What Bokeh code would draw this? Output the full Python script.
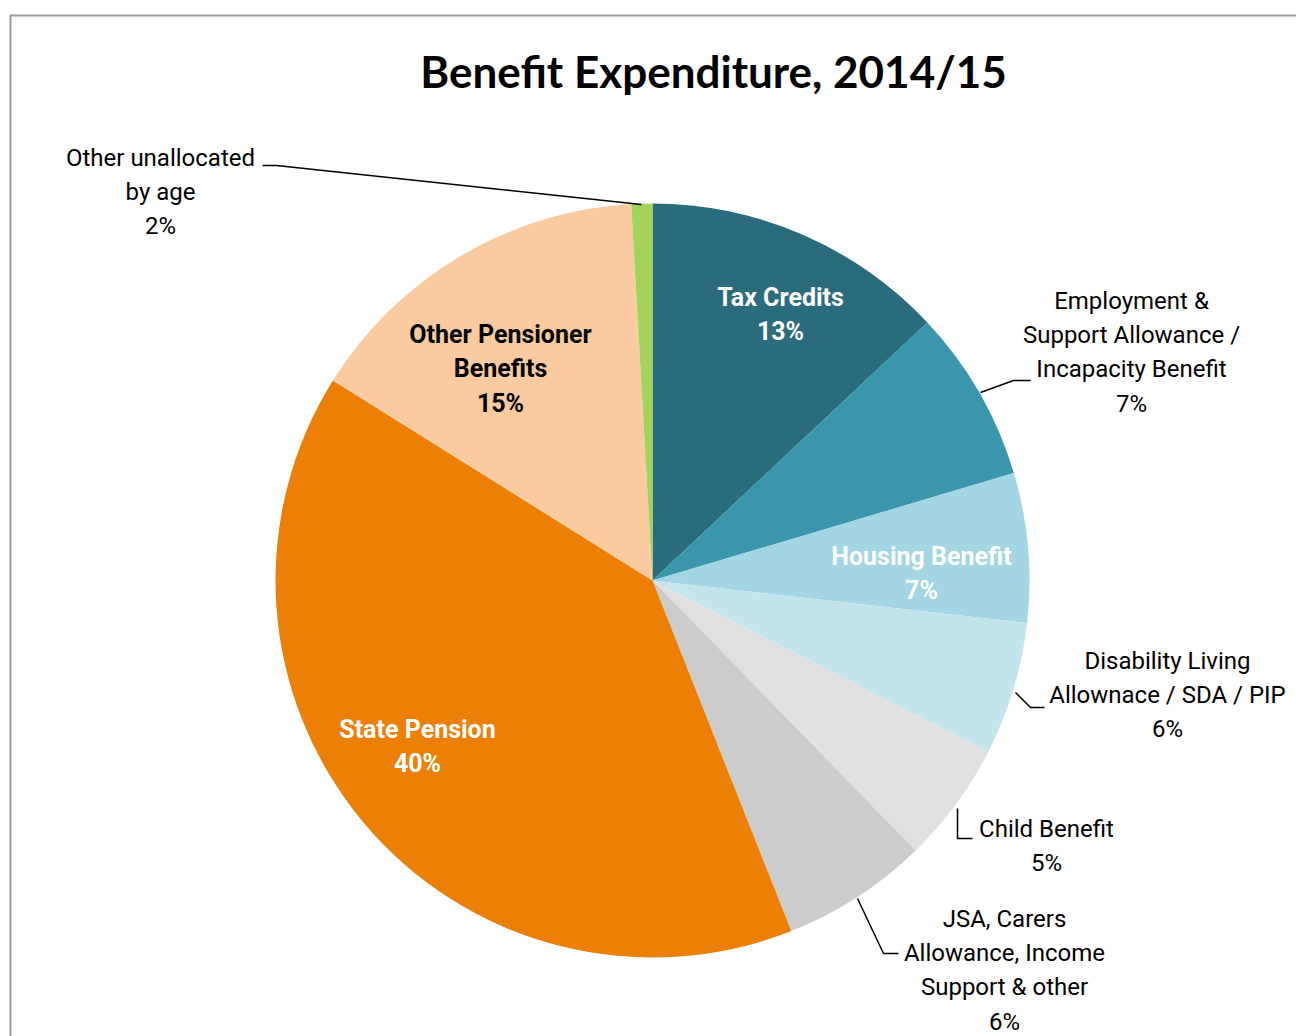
from bokeh.plotting import figure
from bokeh.models import Range1d, ColumnDataSource
from bokeh.core.properties import value
from bokeh.embed import file_html
from bokeh.resources import INLINE
import math

# ---------------- data ----------------
categories = [
    "Tax Credits",
    "Employment & Support Allowance / Incapacity Benefit",
    "Housing Benefit",
    "Disability Living Allownace / SDA / PIP",
    "Child Benefit",
    "JSA, Carers Allowance, Income Support & other",
    "State Pension",
    "Other Pensioner Benefits",
    "Other unallocated by age",
]
shares = [13.0, 7.4, 6.4, 5.7, 5.2, 6.3, 39.9, 15.2, 0.9]
pct_labels = ["13%", "7%", "7%", "6%", "5%", "6%", "40%", "15%", "2%"]
colors = ["#2A6B7C", "#3A96AC", "#A3D5E3", "#C4E4ED", "#E0E0E0",
          "#CCCCCC", "#EC8006", "#FACBA0", "#A2D35A"]
title_text = "Benefit Expenditure, 2014/15"

# ---------------- layout (pixel space) ----------------
W, H = 1296, 1036
def sx(x):
    return x
def sy(y):
    return H - y

CX, CY, R = sx(652), sy(580), 377

p = figure(width=W, height=H, output_backend="svg", toolbar_location=None,
           x_range=Range1d(0, W), y_range=Range1d(0, H),
           min_border=0, background_fill_color="white",
           border_fill_color="white", outline_line_color=None)
p.axis.visible = False
p.grid.visible = False

# frame border (left & top edges visible)
p.line(x=[sx(10), sx(10), sx(1310)], y=[sy(1050), sy(15), sy(15)],
       line_color="#9A9A9A", line_width=2)

# wedges
total = sum(shares)
starts, ends = [], []
cum = 0.0
for v in shares:
    starts.append(math.pi / 2 - cum / total * 2 * math.pi)
    cum += v
    ends.append(math.pi / 2 - cum / total * 2 * math.pi)
src = ColumnDataSource(dict(cat=categories, start=starts, end=ends, color=colors))
p.wedge(x=CX, y=CY, radius=R, start_angle="start", end_angle="end",
        direction="clock", fill_color="color", line_color=None, source=src)

# labels: (lines excluding pct, center x, first line y, color, bold)
label_layout = {
    "Tax Credits": (["Tax Credits"], 780, 297, "white", True),
    "Employment & Support Allowance / Incapacity Benefit":
        (["Employment &", "Support Allowance /", "Incapacity Benefit"], 1131, 300, "black", False),
    "Housing Benefit": (["Housing Benefit"], 921, 556, "white", True),
    "Disability Living Allownace / SDA / PIP":
        (["Disability Living", "Allownace / SDA / PIP"], 1167, 660, "black", False),
    "Child Benefit": (["Child Benefit"], 1046, 828, "black", False),
    "JSA, Carers Allowance, Income Support & other":
        (["JSA, Carers", "Allowance, Income", "Support & other"], 1004, 918, "black", False),
    "State Pension": (["State Pension"], 417, 729, "white", True),
    "Other Pensioner Benefits": (["Other Pensioner", "Benefits"], 500, 334, "black", True),
    "Other unallocated by age": (["Other unallocated", "by age"], 160, 157, "black", False),
}
LH = 34.4
FONT = "Roboto"
for cat, pct in zip(categories, pct_labels):
    lines, x, y0, col, bold = label_layout[cat]
    all_lines = lines + [pct]
    xs = [sx(x)] * len(all_lines)
    ys = [sy(y0 + i * LH) for i in range(len(all_lines))]
    p.text(x=xs, y=ys, text=all_lines, text_align="center", text_baseline="middle",
           text_color=col, text_font=value(FONT),
           text_font_size="25px" if bold else "24px",
           text_font_style="bold" if bold else "normal")

# leader lines
leaders = [
    [(262, 165), (276, 165), (641, 204)],
    [(980, 392), (1013, 380), (1030, 380)],
    [(1015, 692), (1030, 707), (1044, 707)],
    [(957, 808), (957, 838), (972, 838)],
    [(857, 898), (883, 953), (898, 953)],
]
p.multi_line(xs=[[sx(a) for a, b in L] for L in leaders],
             ys=[[sy(b) for a, b in L] for L in leaders],
             line_color="black", line_width=1.5)

# title
p.text(x=[sx(713)], y=[sy(70)], text=[title_text], text_align="center",
       text_baseline="middle", text_color="black", text_font=value("Lato"),
       text_font_size="44px", text_font_style="bold")

open("out.html", "w").write(file_html(p, INLINE))
